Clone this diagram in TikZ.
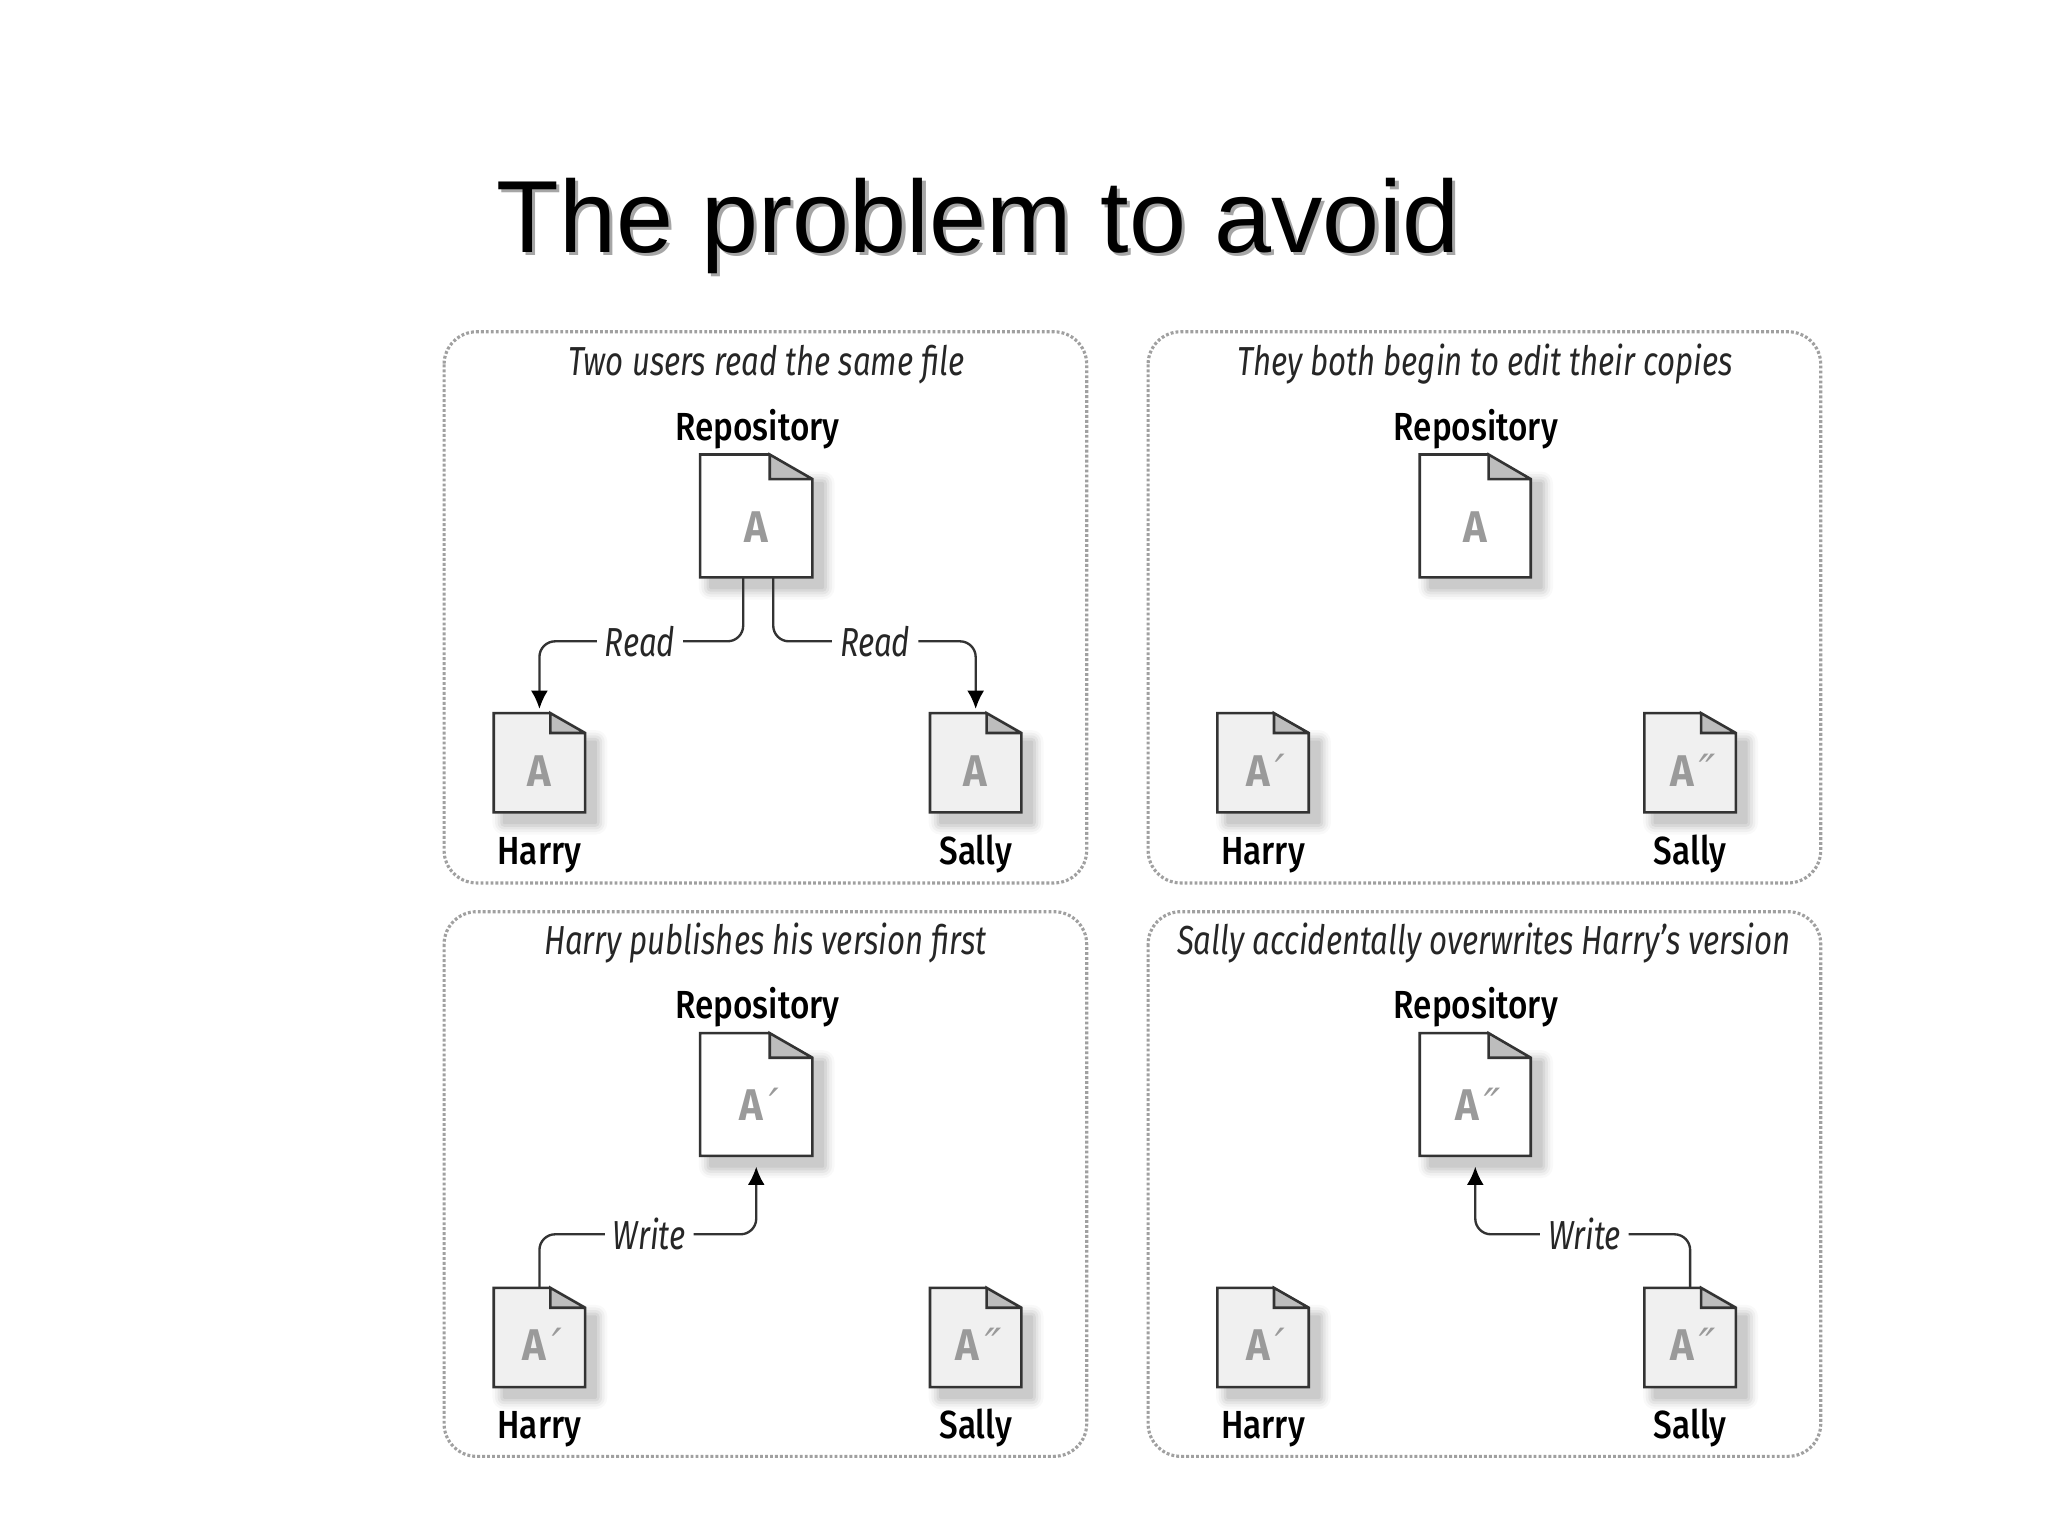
\documentclass[tikz,border=0pt]{standalone}
\usepackage{fontspec}
\setmainfont{Liberation Sans}
\newfontfamily\condfont[FakeStretch=0.85]{Fira Sans Medium}
\newfontfamily\letterfont[FakeStretch=0.9]{Fira Sans}
\newfontfamily\condit[FakeStretch=0.77]{Fira Sans Italic}
\newfontfamily\primefont[FakeSlant=0.2]{DejaVu Sans}
\usetikzlibrary{calc,arrows.meta}
\definecolor{panelgray}{HTML}{A0A0A0}
\definecolor{edgegray}{HTML}{333333}
\definecolor{foldgray}{HTML}{BDBDBD}
\definecolor{lettergray}{HTML}{9A9A9A}
\definecolor{paperwhite}{HTML}{FFFFFF}
\definecolor{papergray}{HTML}{F0F0F0}
\newcommand{\onep}{{\primefont\mdseries\fontsize{34}{34}\selectfont ′}}
\newcommand{\twop}{{\primefont\mdseries\fontsize{34}{34}\selectfont ″}}
\tikzset{
  panelbox/.style={draw=panelgray,line width=2.4pt,dash pattern=on 2.2pt off 1.6pt,rounded corners=25pt},
  captiontext/.style={font=\condit\fontsize{31}{33}\selectfont,inner sep=0pt,text=black!85},
  nametext/.style={font=\condfont\fontsize{30}{32}\selectfont,inner sep=0pt,text=black,text height=22pt,text depth=7pt},
  lettertext/.style={font=\letterfont\bfseries\fontsize{34}{36}\selectfont,inner sep=0pt,text=lettergray},
  conntext/.style={font=\condit\fontsize{31}{33}\selectfont,inner sep=0pt,text=black!85,fill=white,inner xsep=6pt,inner ysep=2pt},
  link/.style={draw=edgegray,line width=1.8pt,rounded corners=12pt},
  linkarrow/.style={link,-{Latex[length=14pt,width=13pt,black]}},
  docbox/.style={inner sep=0pt,draw=none},
}
% name, left, top, width, height, fill, label, label dy
\newcommand{\docfile}[8]{%
  \foreach \k/\o in {9/.025,7/.035,5/.045,3/.055,1/.06}{
    \fill[black,opacity=\o,rounded corners=\k pt]
      (#2+8-\k,#3+22-\k) rectangle (#2+#4+8+\k,#3+#5+8+\k);
  }
  \def\fx{#2+#4*0.62}\def\fy{#3+#5*0.2}
  \fill[#6] (#2,#3) -- (\fx,#3) -- (#2+#4,\fy) -- (#2+#4,#3+#5) -- (#2,#3+#5) -- cycle;
  \fill[foldgray] (\fx,#3) -- (#2+#4,\fy) -- (\fx,\fy) -- cycle;
  \draw[edgegray,line width=2pt,line join=miter] (\fx,#3) -- (#2,#3) -- (#2,#3+#5) -- (#2+#4,#3+#5) -- (#2+#4,\fy) -- (\fx,#3) -- (\fx,\fy) -- (#2+#4,\fy);
  \node[docbox,minimum width=#4 pt,minimum height=#5 pt] (#1) at (#2+#4/2,#3+#5/2) {};
  \node[lettertext,text height=24pt,text depth=0pt] (#1-l) at ($(#1.center)+(0,#8)$) {#7};
}
\begin{document}
\begin{tikzpicture}[x=1pt,y=-1pt]
\useasboundingbox[fill=white] (0,0) rectangle (1568,1175);

% title
\node[anchor=base west,inner sep=0pt,text=black!35,font=\fontsize{78.5}{90}\selectfont] (titleshadow) at (382.5,195.5) {The problem to avoid};
\node[anchor=base west,inner sep=0pt,text=black,font=\fontsize{78.5}{90}\selectfont] (title) at (380,193) {The problem to avoid};

% panels
\draw[panelbox] (340,254) rectangle (832,676);
\draw[panelbox] (879,254) rectangle (1394,676);
\draw[panelbox] (340,698) rectangle (832,1115);
\draw[panelbox] (879,698) rectangle (1394,1115);

% captions
\node[captiontext] (cap1) at (587,279) {Two users read the same file};
\node[captiontext] (cap2) at (1137,279) {They both begin to edit their copies};
\node[captiontext] (cap3) at (586,722) {Harry publishes his version first};
\node[captiontext] (cap4) at (1136,722) {Sally accidentally overwrites Harry’s version};

% panel 1
\node[nametext] (rn1) at (580,329.5) {Repository};
\docfile{r1}{536}{348}{86}{94}{paperwhite}{A}{8}
\docfile{h1}{378}{546}{70}{76}{papergray}{A}{6}
\docfile{s1}{712}{546}{70}{76}{papergray}{A}{6}
\node[nametext] (hn1) at (413,654.5) {Harry};
\node[nametext] (sn1) at (747,654.5) {Sally};
\node[conntext] (read1) at (490,491) {Read};
\node[conntext] (read2) at (670,491) {Read};
\draw[link] ([xshift=-10pt]r1.south) |- (read1.east);
\draw[linkarrow] (read1.west) -| ([yshift=3pt]h1.north);
\draw[link] ([xshift=13pt]r1.south) |- (read2.west);
\draw[linkarrow] (read2.east) -| ([yshift=3pt]s1.north);

% panel 2
\node[nametext] (rn2) at (1130,329.5) {Repository};
\docfile{r2}{1087}{348}{85}{94}{paperwhite}{A}{8}
\docfile{h2}{932}{546}{70}{76}{papergray}{A\onep}{6}
\docfile{s2}{1259}{546}{70}{76}{papergray}{A\twop}{6}
\node[nametext] (hn2) at (967,654.5) {Harry};
\node[nametext] (sn2) at (1294,654.5) {Sally};

% panel 3
\node[nametext] (rn3) at (580,772.5) {Repository};
\docfile{r3}{536}{791}{86}{94}{paperwhite}{A\onep}{8}
\docfile{h3}{378}{986}{70}{76}{papergray}{A\onep}{6}
\docfile{s3}{712}{986}{70}{76}{papergray}{A\twop}{6}
\node[nametext] (hn3) at (413,1093.5) {Harry};
\node[nametext] (sn3) at (747,1093.5) {Sally};
\node[conntext] (write1) at (497,945) {Write};
\draw[link] (h3.north) |- (write1.west);
\draw[linkarrow] (write1.east) -| ([yshift=-8pt]r3.south);

% panel 4
\node[nametext] (rn4) at (1130,772.5) {Repository};
\docfile{r4}{1087}{791}{85}{94}{paperwhite}{A\twop}{8}
\docfile{h4}{932}{986}{70}{76}{papergray}{A\onep}{6}
\docfile{s4}{1259}{986}{70}{76}{papergray}{A\twop}{6}
\node[nametext] (hn4) at (967,1093.5) {Harry};
\node[nametext] (sn4) at (1294,1093.5) {Sally};
\node[conntext] (write2) at (1213,945) {Write};
\draw[link] (s4.north) |- (write2.east);
\draw[linkarrow] (write2.west) -| ([yshift=-8pt]r4.south);
\end{tikzpicture}
\end{document}
